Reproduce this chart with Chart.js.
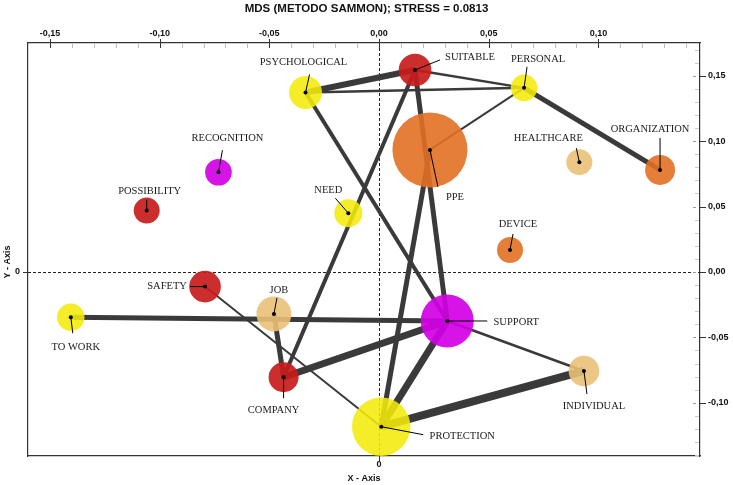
<!DOCTYPE html>
<html>
<head>
<meta charset="utf-8">
<script src="https://cdn.jsdelivr.net/npm/chart.js@4.4.1/dist/chart.umd.min.js"></script>
<style>
  html, body { margin: 0; padding: 0; background: #fff; }
</style>
</head>
<body>
<canvas id="grafico" width="733" height="485"></canvas>
<script>
// DADOS
const terms = ["PSYCHOLOGICAL", "SUITABLE", "PERSONAL", "PPE", "HEALTHCARE", "ORGANIZATION", "DEVICE",
  "NEED", "RECOGNITION", "POSSIBILITY", "SAFETY", "TO WORK", "JOB", "COMPANY", "SUPPORT", "INDIVIDUAL", "PROTECTION"];
const coordX = [-0.0335, 0.0164, 0.0661, 0.0232, 0.0913, 0.1281, 0.0597,
  -0.0140, -0.0732, -0.1059, -0.0793, -0.1405, -0.0479, -0.0435, 0.0311, 0.0934, 0.0010];
const coordY = [0.1372, 0.1544, 0.1407, 0.0933, 0.0839, 0.0780, 0.0168,
  0.0449, 0.0762, 0.0469, -0.0112, -0.0346, -0.0321, -0.0805, -0.0375, -0.0757, -0.1183];
const frequency = [16.5, 16.3, 13.3, 37.5, 13, 15, 13, 14, 13.3, 13, 15.8, 13.7, 17.5, 15, 26.5, 15.3, 29.2];
const cluster = [0, 1, 0, 2, 3, 2, 2, 0, 4, 1, 1, 0, 3, 1, 4, 3, 0];

// LIGAÇÕES
const links = [[0, 1], [0, 2], [1, 2], [2, 3], [2, 5], [1, 13], [1, 14], [3, 16],
  [0, 14], [11, 14], [12, 13], [10, 16], [13, 14], [14, 16], [16, 15], [14, 15]];
const linkWeight = [6, 2.5, 2.5, 2, 5, 4, 5, 5, 4, 5, 5, 2, 7, 7, 8, 2.5];

// EIXOS
const xTicks = [-0.15, -0.10, -0.05, 0, 0.05, 0.10];
const xTickLabels = ["-0,15", "-0,10", "-0,05", "0,00", "0,05", "0,10"];
const yTicks = [-0.10, -0.05, 0, 0.05, 0.10, 0.15];
const yTickLabels = ["-0,10", "-0,05", "0,00", "0,05", "0,10", "0,15"];

// estilo
const palette = ["rgba(244,234,10,0.88)", "rgba(200,28,28,0.92)", "rgba(226,112,36,0.9)",
  "rgba(234,192,120,0.9)", "rgba(212,0,230,0.92)"];
// posição dos rótulos: [dx texto, dy texto, dx fim da linha, dy fim da linha]
const labelPos = [[-2, -30, 4, -18], [55, -13, 25, -10], [14, -29, 3, -21], [25, 47, 8, 37],
  [-31, -24, -3, -14], [-10, -41, 0, -32], [8, -26, 3, -16], [-20, -23, -13, -15],
  [9, -34, 4, -22], [3, -19, 0, -11], [-38, 0, -15, 0], [5, 30, 2, 16], [5, -24, 3, -16],
  [-10, 33, 0, 21], [69, 1, 40, 0], [10, 35, 3, 23], [81, 10, 42, 8]];

const eixoFont = { family: "Arial, 'Liberation Sans'", size: 9, weight: "bold" };

// sem margem extra dos rótulos
function fixBox(size, horizontal) {
  return s => {
    if (horizontal) s.height = size; else s.width = size;
    s.paddingLeft = s.paddingRight = s.paddingTop = s.paddingBottom = 0;
  };
}

// LINHAS DE ZERO
const zeroLines = {
  id: "zeroLines",
  beforeDatasetsDraw(chart) {
    const { ctx, chartArea: a, scales } = chart;
    const x0 = Math.round(scales.x.getPixelForValue(0)) + 0.5;
    const y0 = Math.round(scales.y.getPixelForValue(0)) + 0.5;
    ctx.save();
    ctx.strokeStyle = "#222";
    ctx.lineWidth = 1;
    ctx.setLineDash([3, 2]);
    ctx.beginPath();
    ctx.moveTo(x0, a.top); ctx.lineTo(x0, a.bottom);
    ctx.moveTo(a.left, y0); ctx.lineTo(a.right, y0);
    ctx.stroke();
    ctx.restore();
  }
};

// MARCAS DOS EIXOS
const tickMarks = {
  id: "tickMarks",
  afterDraw(chart) {
    const { ctx, chartArea: a, scales } = chart;
    ctx.save();
    ctx.lineWidth = 1;
    for (let k = -15; k <= 14; k++) {
      const px = Math.round(scales.x.getPixelForValue(k / 100)) + 0.5;
      ctx.beginPath();
      if (k % 5 === 0) {
        ctx.strokeStyle = "#333";
        ctx.moveTo(px, a.top - 4); ctx.lineTo(px, a.top + 5);
      } else {
        ctx.strokeStyle = "#bbb";
        ctx.moveTo(px, a.top + 1); ctx.lineTo(px, a.top + 5);
      }
      ctx.stroke();
    }
    for (let k = -14; k <= 17; k++) {
      const py = Math.round(scales.y.getPixelForValue(k / 100)) + 0.5;
      ctx.beginPath();
      if (k % 5 === 0) {
        ctx.strokeStyle = "#999";
        ctx.moveTo(a.right - 7, py); ctx.lineTo(a.right - 4, py);
        ctx.stroke();
        ctx.beginPath();
        ctx.strokeStyle = "#333";
        ctx.moveTo(a.right, py); ctx.lineTo(a.right + 6, py);
      } else {
        ctx.strokeStyle = "#ccc";
        ctx.moveTo(a.right - 5, py); ctx.lineTo(a.right - 1, py);
      }
      ctx.stroke();
    }
    const x0 = Math.round(scales.x.getPixelForValue(0)) + 0.5;
    const y0 = Math.round(scales.y.getPixelForValue(0)) + 0.5;
    ctx.strokeStyle = "#333";
    ctx.beginPath();
    ctx.moveTo(x0, a.bottom); ctx.lineTo(x0, a.bottom + 5);
    ctx.moveTo(a.left - 5, y0); ctx.lineTo(a.left, y0);
    ctx.stroke();
    // título do eixo Y
    ctx.fillStyle = "#111";
    ctx.font = "bold 9px Arial, 'Liberation Sans'";
    ctx.textAlign = "center";
    ctx.textBaseline = "middle";
    ctx.translate(8, 262);
    ctx.rotate(-Math.PI / 2);
    ctx.fillText("Y - Axis", 0, 0);
    ctx.restore();
  }
};

// RÓTULOS
const nodeLabels = {
  id: "nodeLabels",
  afterDatasetsDraw(chart) {
    const { ctx, scales } = chart;
    ctx.save();
    ctx.font = "10.5px 'Liberation Serif', 'Times New Roman', serif";
    ctx.textAlign = "center";
    ctx.textBaseline = "middle";
    terms.forEach((t, i) => {
      const px = scales.x.getPixelForValue(coordX[i]);
      const py = scales.y.getPixelForValue(coordY[i]);
      const p = labelPos[i];
      ctx.strokeStyle = "#000";
      ctx.lineWidth = 1;
      ctx.beginPath();
      ctx.moveTo(px, py);
      ctx.lineTo(px + p[2], py + p[3]);
      ctx.stroke();
      ctx.fillStyle = "#000";
      ctx.beginPath();
      ctx.arc(px, py, 2, 0, Math.PI * 2);
      ctx.fill();
      ctx.fillStyle = "#1a1a1a";
      ctx.fillText(t, px + p[0], py + p[1]);
    });
    ctx.restore();
  }
};

const nodes = terms.map((t, i) => ({ x: coordX[i], y: coordY[i], r: frequency[i] }));

const datasets = links.map((l, i) => ({
  type: "line",
  data: [{ x: coordX[l[0]], y: coordY[l[0]] }, { x: coordX[l[1]], y: coordY[l[1]] }],
  borderColor: "#3a3a3a",
  borderWidth: linkWeight[i],
  borderCapStyle: "butt",
  pointRadius: 0,
  xAxisID: "x",
  yAxisID: "y",
  order: 3
}));

datasets.push({
  type: "bubble",
  data: nodes,
  backgroundColor: cluster.map(c => palette[c]),
  borderWidth: 0,
  hoverRadius: 0,
  xAxisID: "x",
  yAxisID: "y",
  order: 2
});

new Chart(document.getElementById("grafico").getContext("2d"), {
  type: "bubble",
  data: { datasets },
  options: {
    responsive: false,
    animation: false,
    events: [],
    layout: { padding: 0, autoPadding: false },
    plugins: {
      legend: { display: false },
      tooltip: { enabled: false },
      title: {
        display: true,
        text: "MDS (METODO SAMMON); STRESS = 0.0813",
        color: "#111",
        font: { family: "Arial, 'Liberation Sans'", size: 11.5, weight: "bold" },
        padding: { top: 2, bottom: 3 }
      }
    },
    scales: {
      x: {
        type: "linear", position: "top", min: -0.160, max: 0.1463,
        afterBuildTicks: s => { s.ticks = xTicks.map(v => ({ value: v })); },
        afterFit: fixBox(24.2, true),
        ticks: { callback: (v, i) => xTickLabels[i], font: eixoFont, color: "#111", padding: 4, maxRotation: 0, autoSkip: false },
        grid: { drawOnChartArea: false, drawTicks: false },
        border: { color: "#333", width: 1.2 }
      },
      x2: {
        type: "linear", position: "bottom", min: -0.160, max: 0.1463,
        afterBuildTicks: s => { s.ticks = [{ value: 0 }]; },
        afterFit: fixBox(29, true),
        ticks: { callback: () => "0", font: eixoFont, color: "#111", padding: 3, maxRotation: 0 },
        grid: { drawOnChartArea: false, drawTicks: false },
        border: { color: "#333", width: 1.2 },
        title: { display: true, text: "X - Axis", font: eixoFont, color: "#111", padding: { top: 0, bottom: 1 } }
      },
      y: {
        type: "linear", position: "right", min: -0.1407, max: 0.175,
        afterBuildTicks: s => { s.ticks = yTicks.map(v => ({ value: v })); },
        afterFit: fixBox(33, false),
        ticks: { callback: (v, i) => yTickLabels[i], font: eixoFont, color: "#111", padding: 8, autoSkip: false },
        grid: { drawOnChartArea: false, drawTicks: false },
        border: { color: "#333", width: 1.2 }
      },
      y2: {
        type: "linear", position: "left", min: -0.1407, max: 0.175,
        afterBuildTicks: s => { s.ticks = [{ value: 0 }]; },
        afterFit: fixBox(28, false),
        ticks: { callback: () => "0", font: eixoFont, color: "#111", padding: 8 },
        grid: { drawOnChartArea: false, drawTicks: false },
        border: { color: "#333", width: 1.2 }
      }
    }
  },
  plugins: [zeroLines, tickMarks, nodeLabels]
});
</script>
</body>
</html>
